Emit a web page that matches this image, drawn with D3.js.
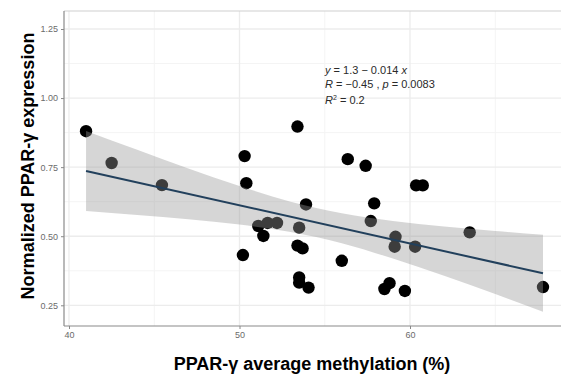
<!DOCTYPE html>
<meta charset="utf-8">
<style>
    body { margin: 0; background: #fff; }
    text { font-family: Arial, "Liberation Sans", sans-serif; }
    .tick text { fill: #6b6b6b; font-size: 9px; }
    .axis-title { font-weight: bold; font-size: 18px; fill: #000; }
    .stats { font-size: 11px; fill: #2a2a2a; }
</style>
<svg width="561" height="376"></svg>
<script src="https://cdn.jsdelivr.net/npm/d3@7"></script>
<script>

    // methylation (%) vs normalized expression
    var methylation = [41.0, 42.5, 45.45, 50.3, 50.4, 50.2, 51.1, 51.65, 52.2, 51.4,
        53.4, 56.35, 57.4, 60.36, 60.75, 53.9, 53.5, 53.4, 53.7, 56.0,
        53.5, 53.5, 54.05, 57.9, 57.7, 59.15, 59.1, 60.3, 63.5, 58.5,
        58.8, 59.7, 67.8];
    var expression = [0.880, 0.765, 0.685, 0.790, 0.692, 0.432, 0.537, 0.548, 0.548, 0.501,
        0.897, 0.779, 0.755, 0.684, 0.684, 0.615, 0.531, 0.466, 0.456, 0.411,
        0.351, 0.332, 0.314, 0.619, 0.555, 0.498, 0.462, 0.462, 0.514, 0.309,
        0.330, 0.302, 0.316];

    // fitted line and its 95% band
    var fitX = [41, 67.8];
    var fitY = [0.736, 0.366];
    var bandX = [41, 44, 47, 50, 53, 56, 59, 62, 65, 67.8];
    var bandLow = [0.591, 0.577, 0.561, 0.542, 0.515, 0.475, 0.419, 0.357, 0.291, 0.227];
    var bandHigh = [0.881, 0.813, 0.745, 0.682, 0.625, 0.583, 0.555, 0.535, 0.519, 0.505];

    var xTicks = [40, 50, 60];
    var yTicks = [0.25, 0.50, 0.75, 1.00, 1.25];
    var xMinor = [45, 55, 65];
    var yMinor = [0.375, 0.625, 0.875, 1.125];

    var svg = d3.select("svg");

    var panel = {left: 64, right: 575, top: 11, bottom: 326};

    var x = d3.scaleLinear().domain([40, 60]).range([69, 410]);
    var y = d3.scaleLinear().domain([0.25, 1.25]).range([305.3, 29]);

    // grid
    var grid = svg.append("g");
    grid.selectAll(".vminor").data(xMinor).enter().append("line")
        .attr("x1", d => x(d)).attr("x2", d => x(d))
        .attr("y1", panel.top).attr("y2", panel.bottom)
        .attr("stroke", "#f4f4f4").attr("stroke-width", 1);
    grid.selectAll(".hminor").data(yMinor).enter().append("line")
        .attr("x1", panel.left).attr("x2", panel.right)
        .attr("y1", d => y(d)).attr("y2", d => y(d))
        .attr("stroke", "#f4f4f4").attr("stroke-width", 1);
    grid.selectAll(".vmajor").data(xTicks).enter().append("line")
        .attr("x1", d => x(d)).attr("x2", d => x(d))
        .attr("y1", panel.top).attr("y2", panel.bottom)
        .attr("stroke", "#ececec").attr("stroke-width", 1.3);
    grid.selectAll(".hmajor").data(yTicks).enter().append("line")
        .attr("x1", panel.left).attr("x2", panel.right)
        .attr("y1", d => y(d)).attr("y2", d => y(d))
        .attr("stroke", "#ececec").attr("stroke-width", 1.3);

    // top border of the panel
    svg.append("line")
        .attr("x1", panel.left).attr("x2", panel.right)
        .attr("y1", panel.top).attr("y2", panel.top)
        .attr("stroke", "#cfcfcf").attr("stroke-width", 1.2);

    // points first, then band on top (ggplot order)
    svg.append("g").selectAll("circle")
        .data(methylation.map((m, i) => [m, expression[i]]))
        .enter().append("circle")
        .attr("cx", d => x(d[0]))
        .attr("cy", d => y(d[1]))
        .attr("r", 6.2)
        .attr("fill", "#000");

    var band = bandX.map((b, i) => ({x: b, lo: bandLow[i], hi: bandHigh[i]}));
    svg.append("path")
        .datum(band)
        .attr("fill", "#999999")
        .attr("fill-opacity", 0.4)
        .attr("d", d3.area().x(d => x(d.x)).y0(d => y(d.lo)).y1(d => y(d.hi)).curve(d3.curveMonotoneX));

    svg.append("path")
        .datum(fitX.map((f, i) => [f, fitY[i]]))
        .attr("fill", "none")
        .attr("stroke", "#22405c")
        .attr("stroke-width", 2)
        .attr("d", d3.line().x(d => x(d[0])).y(d => y(d[1])));

    // axes
    var xAxis = svg.append("g")
        .attr("transform", "translate(0," + panel.bottom + ")")
        .call(d3.axisBottom(x).tickValues(xTicks).tickSize(3).tickPadding(3).tickFormat(d3.format("d")));
    xAxis.select(".domain").remove();
    xAxis.selectAll(".tick line").attr("stroke", "#888");

    var yAxis = svg.append("g")
        .attr("transform", "translate(" + panel.left + ",0)")
        .call(d3.axisLeft(y).tickValues(yTicks).tickSize(3).tickPadding(3).tickFormat(d3.format(".2f")));
    yAxis.select(".domain").remove();
    yAxis.selectAll(".tick line").attr("stroke", "#888");

    svg.append("line")
        .attr("x1", panel.left).attr("x2", panel.left)
        .attr("y1", panel.top).attr("y2", panel.bottom)
        .attr("stroke", "#8a8a8a").attr("stroke-width", 1.2);
    svg.append("line")
        .attr("x1", panel.left).attr("x2", panel.right)
        .attr("y1", panel.bottom).attr("y2", panel.bottom)
        .attr("stroke", "#8a8a8a").attr("stroke-width", 1.2);

    // titles
    svg.append("text")
        .attr("class", "axis-title")
        .attr("x", 312).attr("y", 370)
        .attr("text-anchor", "middle")
        .text("PPAR-\u03b3 average methylation (%)");

    svg.append("text")
        .attr("class", "axis-title")
        .attr("transform", "translate(34,166) rotate(-90)")
        .attr("text-anchor", "middle")
        .text("Normalized PPAR-\u03b3 expression");

    // regression stats
    var stats = svg.append("g").attr("class", "stats");
    var t1 = stats.append("text").attr("x", 325).attr("y", 74);
    t1.append("tspan").attr("font-style", "italic").text("y");
    t1.append("tspan").text(" = 1.3 \u2212 0.014 ");
    t1.append("tspan").attr("font-style", "italic").text("x");

    var t2 = stats.append("text").attr("x", 325).attr("y", 88);
    t2.append("tspan").attr("font-style", "italic").text("R");
    t2.append("tspan").text(" = \u22120.45 , ");
    t2.append("tspan").attr("font-style", "italic").text("p");
    t2.append("tspan").text(" = 0.0083");

    var t3 = stats.append("text").attr("x", 325).attr("y", 104);
    t3.append("tspan").attr("font-style", "italic").text("R");
    t3.append("tspan").attr("font-size", "7px").attr("dy", -4).text("2");
    t3.append("tspan").attr("dy", 4).text(" = 0.2");

</script>
